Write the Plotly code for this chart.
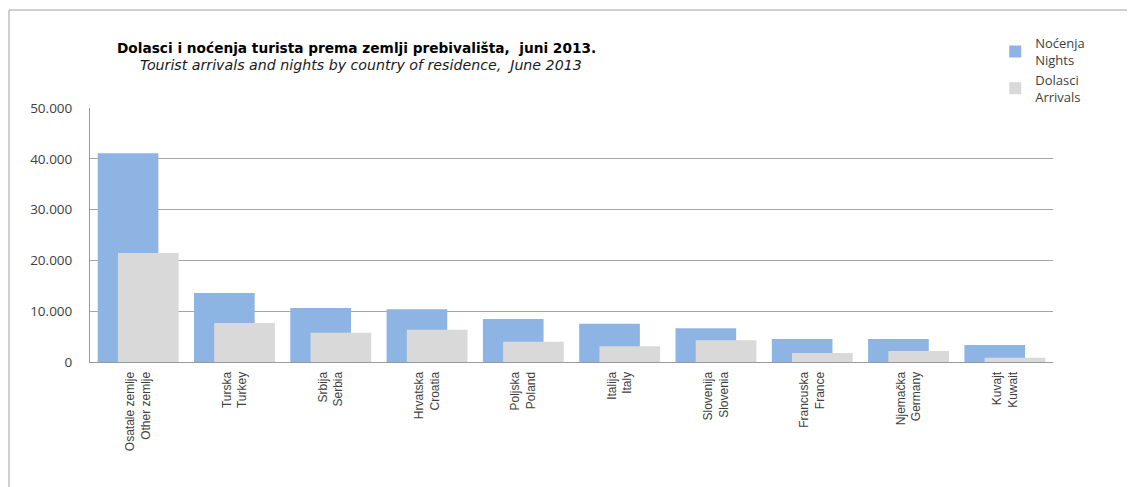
import plotly.graph_objects as go

categories = [
    "Osatale zemlje<br>Other zemlje",
    "Turska<br>Turkey",
    "Srbija<br>Serbia",
    "Hrvatska<br>Croatia",
    "Poljska<br>Poland",
    "Italija<br>Italy",
    "Slovenija<br>Slovenia",
    "Francuska<br>France",
    "Njemačka<br>Germany",
    "Kuvajt<br>Kuwait",
]
nights = [41100, 13600, 10630, 10370, 8460, 7550, 6630, 4530, 4530, 3350]
arrivals = [21450, 7700, 5770, 6360, 4000, 3080, 4260, 1770, 2170, 850]
y_ticks = [0, 10000, 20000, 30000, 40000, 50000]

BLUE = "rgb(141,180,226)"
GREY = "rgb(217,217,217)"
FONT = "Liberation Sans Narrow, Liberation Sans, Arial"
TFONT = "DejaVu Sans, Open Sans"

fig = go.Figure()
fig.add_trace(go.Bar(x=categories, y=nights, name="Noćenja<br>Nights",
                     marker=dict(color=BLUE, line=dict(width=0)),
                     width=0.63, offset=-0.42))
fig.add_trace(go.Bar(x=categories, y=arrivals, name="Dolasci<br>Arrivals",
                     marker=dict(color=GREY, line=dict(width=0)),
                     width=0.63, offset=-0.21))

fig.update_layout(
    width=1135, height=487,
    margin=dict(l=82, r=90, t=100, b=133, autoexpand=False),
    paper_bgcolor="white", plot_bgcolor="white",
    barmode="overlay",
    separators=",.",
    showlegend=True,
    legend=dict(x=0.94, y=1.315, xanchor="left", yanchor="top",
                font=dict(family="Open Sans, Liberation Sans", size=13, color="#404040"),
                bgcolor="rgba(0,0,0,0)", tracegroupgap=4, itemwidth=30),
    font=dict(family=FONT, color="#404040"),
)
fig.update_xaxes(
    type="category", tickangle=-90, showgrid=False,
    showline=True, linecolor="#999999", linewidth=1,
    ticks="", tickfont=dict(family=FONT, size=12, color="#404040"),
    ticklabelstandoff=4,
)
fig.update_yaxes(
    range=[0, 50000], tickvals=y_ticks, tickformat=",.0f",
    showgrid=True, gridcolor="#a6a6a6", gridwidth=1,
    showline=True, linecolor="#999999", linewidth=1, zeroline=False,
    ticks="", tickfont=dict(family="Open Sans, Liberation Sans", size=13.5, color="#404040"),
    ticklabelstandoff=14,
)

fig.add_annotation(text="<b>Dolasci i noćenja turista prema zemlji prebivališta,  juni 2013.</b>",
                   xref="paper", yref="paper", x=(356 - 90) / 963, y=(362 - 48) / 254,
                   xanchor="center", yanchor="middle", showarrow=False,
                   font=dict(family=TFONT, size=13.7, color="#000000"))
fig.add_annotation(text="<i>Tourist arrivals and nights by country of residence,  June 2013</i>",
                   xref="paper", yref="paper", x=(361 - 90) / 963, y=(362 - 65) / 254,
                   xanchor="center", yanchor="middle", showarrow=False,
                   font=dict(family=TFONT, size=14.2, color="#1a1a1a"))

# outer chart frame (top and left edges visible)
px0, py0 = (9 - 90) / 963, (362 - 10) / 254
fig.add_shape(type="line", xref="paper", yref="paper", x0=px0, y0=py0, x1=1.2, y1=py0,
              line=dict(color="#a0a0a0", width=1))
fig.add_shape(type="line", xref="paper", yref="paper", x0=px0, y0=py0, x1=px0, y1=-0.7,
              line=dict(color="#a0a0a0", width=1))

fig.write_html("out.html")
